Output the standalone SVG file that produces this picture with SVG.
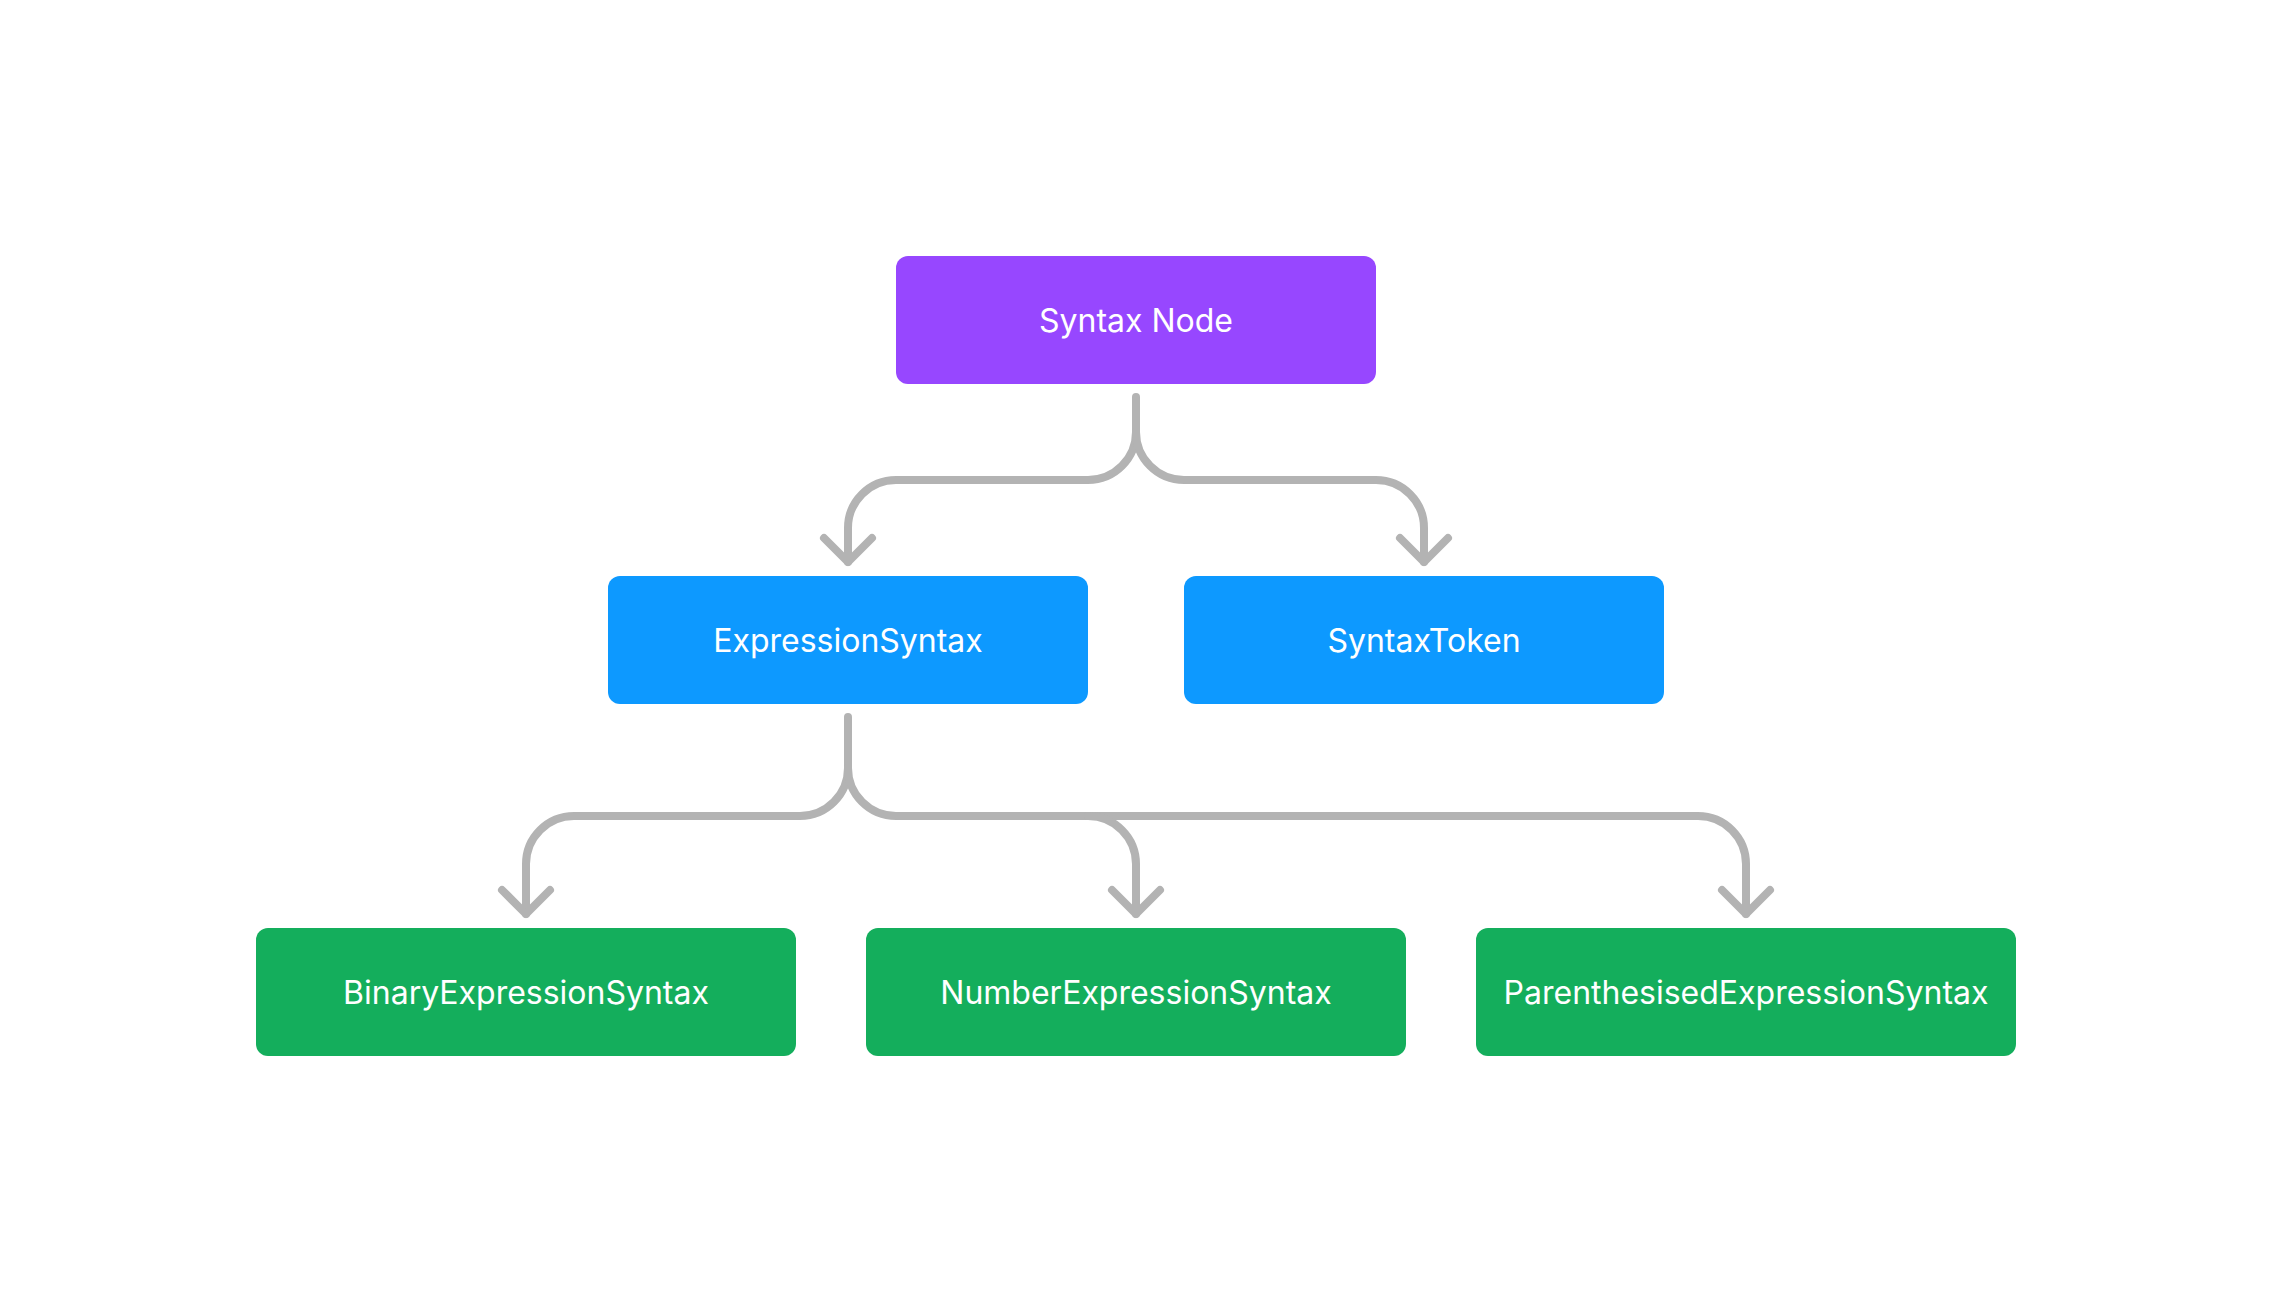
<svg xmlns="http://www.w3.org/2000/svg" width="2272" height="1312" viewBox="0 0 2272 1312">
<style>
.box{stroke:none}
.purple{fill:#9747FF}
.blue{fill:#0D99FF}
.green{fill:#14AE5C}
.lbl{font-family:Inter,"Noto Sans","Liberation Sans",sans-serif;font-size:32px;fill:#FFFFFF;text-anchor:middle}
.conn{fill:none;stroke:#B3B3B3;stroke-width:8;stroke-linecap:round;stroke-linejoin:round}
</style>
<rect width="2272" height="1312" fill="#FFFFFF"/>
<g id="connectors">
<path class="conn" d="M1136 397 V432 A48 48 0 0 1 1088 480 H896 A48 48 0 0 0 848 528 V562"/>
<path class="conn" d="M824 538 L848 562 L872 538"/>
<path class="conn" d="M1136 432 A48 48 0 0 0 1184 480 H1376 A48 48 0 0 1 1424 528 V562"/>
<path class="conn" d="M1400 538 L1424 562 L1448 538"/>
<path class="conn" d="M848 717 V768 A48 48 0 0 1 800 816 H574 A48 48 0 0 0 526 864 V914"/>
<path class="conn" d="M502 890 L526 914 L550 890"/>
<path class="conn" d="M848 768 A48 48 0 0 0 896 816 H1698 A48 48 0 0 1 1746 864 V914"/>
<path class="conn" d="M1088 816 A48 48 0 0 1 1136 864 V914"/>
<path class="conn" d="M1112 890 L1136 914 L1160 890"/>
<path class="conn" d="M1722 890 L1746 914 L1770 890"/>
</g>
<g id="syntax-node">
<rect class="box purple" x="896" y="256" width="480" height="128" rx="12"/>
<text class="lbl" x="1136" y="332">Syntax Node</text>
</g>
<g id="expression-syntax">
<rect class="box blue" x="608" y="576" width="480" height="128" rx="12"/>
<text class="lbl" x="848" y="652">ExpressionSyntax</text>
</g>
<g id="syntax-token">
<rect class="box blue" x="1184" y="576" width="480" height="128" rx="12"/>
<text class="lbl" x="1424" y="652">SyntaxToken</text>
</g>
<g id="binary-expression-syntax">
<rect class="box green" x="256" y="928" width="540" height="128" rx="12"/>
<text class="lbl" x="526" y="1004">BinaryExpressionSyntax</text>
</g>
<g id="number-expression-syntax">
<rect class="box green" x="866" y="928" width="540" height="128" rx="12"/>
<text class="lbl" x="1136" y="1004">NumberExpressionSyntax</text>
</g>
<g id="parenthesised-expression-syntax">
<rect class="box green" x="1476" y="928" width="540" height="128" rx="12"/>
<text class="lbl" x="1746" y="1004">ParenthesisedExpressionSyntax</text>
</g>
</svg>
